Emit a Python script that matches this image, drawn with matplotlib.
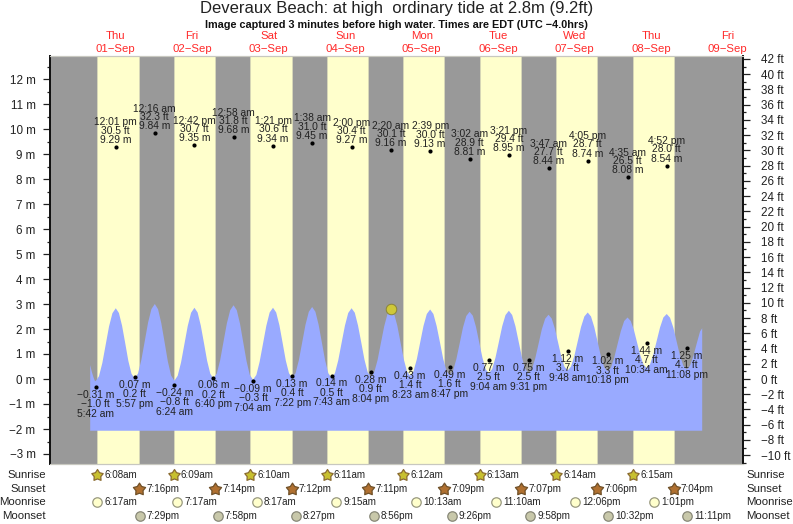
# coding: utf-8
import numpy as np
import matplotlib
matplotlib.use('Agg')
import matplotlib.pyplot as plt
from matplotlib.path import Path
from matplotlib.transforms import blended_transform_factory

plt.rcParams['font.family'] = ['Liberation Sans', 'DejaVu Sans']

# day labels, hours are counted from 00:00 on 01-Sep
day_names = ['Thu', 'Fri', 'Sat', 'Sun', 'Mon', 'Tue', 'Wed', 'Thu', 'Fri']
day_dates = ['01-Sep', '02-Sep', '03-Sep', '04-Sep', '05-Sep', '06-Sep', '07-Sep', '08-Sep', '09-Sep']

sunrise = ['6:08am', '6:09am', '6:10am', '6:11am', '6:12am', '6:13am', '6:14am', '6:15am']
sunset = ['7:16pm', '7:14pm', '7:12pm', '7:11pm', '7:09pm', '7:07pm', '7:06pm', '7:04pm']
moonrise = ['6:17am', '7:17am', '8:17am', '9:15am', '10:13am', '11:10am', '12:06pm', '1:01pm']
moonset = ['7:29pm', '7:58pm', '8:27pm', '8:56pm', '9:26pm', '9:58pm', '10:32pm', '11:11pm']

# high tides: day index, time, ft, m
high_day = [0, 1, 1, 2, 2, 3, 3, 4, 4, 5, 5, 6, 6, 7, 7]
high_time = ['12:01 pm', '12:16 am', '12:42 pm', '12:58 am', '1:21 pm', '1:38 am', '2:00 pm',
             '2:20 am', '2:39 pm', '3:02 am', '3:21 pm', '3:47 am', '4:05 pm', '4:35 am', '4:52 pm']
high_ft = ['30.5', '32.3', '30.7', '31.8', '30.6', '31.0', '30.4',
           '30.1', '30.0', '28.9', '29.4', '27.7', '28.7', '26.5', '28.0']
high_m = ['9.29', '9.84', '9.35', '9.68', '9.34', '9.45', '9.27',
          '9.16', '9.13', '8.81', '8.95', '8.44', '8.74', '8.08', '8.54']

# low tides
low_day = [0, 0, 1, 1, 2, 2, 3, 3, 4, 4, 5, 5, 6, 6, 7, 7]
low_time = ['5:42 am', '5:57 pm', '6:24 am', '6:40 pm', '7:04 am', '7:22 pm', '7:43 am', '8:04 pm',
            '8:23 am', '8:47 pm', '9:04 am', '9:31 pm', '9:48 am', '10:18 pm', '10:34 am', '11:08 pm']
low_ft = ['-1.0', '0.2', '-0.8', '0.2', '-0.3', '0.4', '0.5', '0.9',
          '1.4', '1.6', '2.5', '2.5', '3.7', '3.3', '4.7', '4.1']
low_m = ['-0.31', '0.07', '-0.24', '0.06', '-0.09', '0.13', '0.14', '0.28',
         '0.43', '0.49', '0.77', '0.75', '1.12', '1.02', '1.44', '1.25']

# tide curve
tide_hours = [4.0, 4.5, 5.0, 5.4, 5.7, 6.75, 7.81, 8.86, 9.91, 10.97, 12.02,
              13.01, 14.0, 14.99, 15.97, 16.96, 17.95, 19.0, 20.06, 21.11, 22.16, 23.22, 24.27,
              25.29, 26.31, 27.34, 28.36, 29.38, 30.4, 31.45, 32.5, 33.55, 34.6, 35.65, 36.7,
              37.7, 38.69, 39.69, 40.68, 41.68, 42.67, 43.72, 44.77, 45.82, 46.87, 47.92, 48.97,
              49.99, 51.0, 52.02, 53.04, 54.05, 55.07, 56.12, 57.16, 58.21, 59.26, 60.3, 61.35,
              62.35, 63.36, 64.36, 65.36, 66.37, 67.37, 68.41, 69.46, 70.5, 71.54, 72.59, 73.63,
              74.65, 75.66, 76.68, 77.69, 78.71, 79.72, 80.77, 81.81, 82.86, 83.91, 84.95, 86.0,
              87.01, 88.02, 89.04, 90.05, 91.06, 92.07, 93.11, 94.16, 95.2, 96.24, 97.29, 98.33,
              99.34, 100.35, 101.36, 102.36, 103.37, 104.38, 105.43, 106.47, 107.52, 108.56, 109.6, 110.65,
              111.67, 112.69, 113.72, 114.74, 115.76, 116.78, 117.82, 118.86, 119.91, 120.95, 121.99, 123.03,
              124.04, 125.04, 126.05, 127.06, 128.06, 129.07, 130.12, 131.16, 132.21, 133.26, 134.3, 135.35,
              136.38, 137.41, 138.44, 139.46, 140.49, 141.52, 142.56, 143.61, 144.65, 145.69, 146.74, 147.78,
              148.78, 149.79, 150.79, 151.79, 152.8, 153.8, 154.85, 155.89, 156.94, 157.99, 159.03, 160.08,
              161.12, 162.15, 163.19, 164.23, 165.26, 166.3, 167.35, 168.39, 169.44, 170.49, 171.53, 172.58,
              173.58, 174.58, 175.58, 176.57, 177.57, 178.57, 179.62, 180.67, 181.72, 182.77, 183.82, 184.87,
              185.91, 186.96, 188.0, 189.04, 190.09, 191.13, 192.18, 193.23, 194.28, 195.33, 196.0]
tide_m = [0.56, 0.29, 0.08, -0.06, -0.09, 0.11, 0.64, 1.37, 2.10, 2.63, 2.83,
          2.64, 2.13, 1.43, 0.72, 0.21, 0.02, 0.22, 0.77, 1.51, 2.26, 2.80, 3.00,
          2.79, 2.23, 1.47, 0.70, 0.14, -0.07, 0.13, 0.66, 1.39, 2.12, 2.65, 2.85,
          2.66, 2.14, 1.44, 0.73, 0.21, 0.02, 0.22, 0.75, 1.49, 2.22, 2.75, 2.95,
          2.75, 2.21, 1.46, 0.72, 0.17, -0.03, 0.16, 0.69, 1.41, 2.13, 2.66, 2.85,
          2.66, 2.15, 1.45, 0.74, 0.23, 0.04, 0.23, 0.75, 1.46, 2.17, 2.69, 2.88,
          2.69, 2.17, 1.46, 0.75, 0.23, 0.04, 0.23, 0.74, 1.44, 2.13, 2.64, 2.83,
          2.65, 2.14, 1.46, 0.77, 0.27, 0.085, 0.27, 0.76, 1.44, 2.11, 2.61, 2.79,
          2.61, 2.13, 1.46, 0.80, 0.31, 0.13, 0.31, 0.79, 1.46, 2.12, 2.60, 2.78,
          2.60, 2.12, 1.47, 0.81, 0.33, 0.15, 0.32, 0.79, 1.42, 2.06, 2.52, 2.69,
          2.53, 2.08, 1.46, 0.85, 0.39, 0.23, 0.40, 0.86, 1.48, 2.11, 2.56, 2.73,
          2.56, 2.11, 1.48, 0.86, 0.40, 0.23, 0.39, 0.82, 1.40, 1.99, 2.41, 2.57,
          2.42, 2.01, 1.46, 0.90, 0.49, 0.34, 0.50, 0.92, 1.50, 2.08, 2.50, 2.66,
          2.50, 2.07, 1.49, 0.90, 0.47, 0.31, 0.45, 0.85, 1.39, 1.92, 2.32, 2.46,
          2.32, 1.96, 1.45, 0.95, 0.58, 0.44, 0.58, 0.98, 1.52, 2.06, 2.46, 2.60,
          2.45, 2.05, 1.49, 0.93, 0.53, 0.38, 0.53, 0.92, 1.42, 1.90, 2.03]
tide_floor = -2.07

now_hour = 98.28
now_m = 2.8


def hours(s):
    # '6:08am' or '6:08 am' -> hours after midnight
    s = s.replace(' ', '')
    h, m = s[:-2].split(':')
    h = int(h) % 12
    if s.endswith('pm'):
        h += 12
    return h + int(m) / 60.


def nice(s):
    return s.replace('-', '\u2212')


def fat_star(inner=0.58):
    ang = np.pi / 2 + np.arange(10) * np.pi / 5
    rad = np.where(np.arange(10) % 2 == 0, 1.0, inner)
    verts = np.c_[rad * np.cos(ang), rad * np.sin(ang)]
    return Path(np.vstack([verts, verts[0]]), closed=True)


W, H = 793, 524
L, R, T, B = 49.5, 742.5, 56, 464
fig = plt.figure(figsize=(W / 100., H / 100.), dpi=100)
ax = fig.add_axes([L / W, 1 - B / H, (R - L) / W, (B - T) / H])
ax.set_facecolor('#999999')

# x runs 3.1875 px per hour with midnight 01-Sep at px 77.45
ax.set_xlim((L - 77.45) / 3.1875, (R - 77.45) / 3.1875)
ax.set_ylim(-3.4, 12.92)

for d in range(8):
    ax.axvspan(24 * d + hours(sunrise[d]), 24 * d + hours(sunset[d]),
               facecolor='#ffffcc', edgecolor='#d8d8b8', lw=0.6, zorder=1)

ax.fill_between(tide_hours, tide_m, tide_floor, facecolor='#99aaff', edgecolor='none', zorder=2)

high_x = [24 * d + hours(t) for d, t in zip(high_day, high_time)]
low_x = [24 * d + hours(t) for d, t in zip(low_day, low_time)]
ax.plot(high_x, [float(v) for v in high_m], 'o', color='k', ms=3, mew=0, zorder=4)
ax.plot(low_x, [float(v) for v in low_m], 'o', color='k', ms=3, mew=0, zorder=4)

label_kw = dict(textcoords='offset points', ha='center', va='center', fontsize=7.4,
                color='#222222', zorder=5)
for x, t, ft, m in zip(high_x, high_time, high_ft, high_m):
    y = float(m)
    ax.annotate(m + ' m', (x, y), xytext=(0, 4.9), **label_kw)
    ax.annotate(ft + ' ft', (x, y), xytext=(0, 11.6), **label_kw)
    ax.annotate(t, (x, y), xytext=(0, 17.6), **label_kw)
for x, t, ft, m in zip(low_x, low_time, low_ft, low_m):
    y = float(m)
    ax.annotate(nice(m) + ' m', (x, y), xytext=(0, -5.6), **label_kw)
    ax.annotate(nice(ft) + ' ft', (x, y), xytext=(0, -12.4), **label_kw)
    ax.annotate(t, (x, y), xytext=(0, -19.4), **label_kw)

ax.plot([now_hour], [now_m], 'o', ms=7.6, mfc='#cfc838', mec='#8a8438', mew=0.7, zorder=6)

# left axis in metres
m_ticks = np.arange(-3, 13)
ax.set_xticks([])
ax.set_yticks(m_ticks)
ax.set_yticklabels([nice(str(v)) + ' m' for v in m_ticks], fontsize=8.4, color='#222222')
ax.set_yticks(np.arange(-2.5, 13, 1.0), minor=True)
ax.tick_params(axis='y', which='major', length=5, width=0.9, pad=5, color='#222222')
ax.tick_params(axis='y', which='minor', length=2.5, width=0.9, color='#222222')

# right axis in feet
ax2 = ax.twinx()
ax2.set_ylim(ax.get_ylim()[0] * 3.2808, ax.get_ylim()[1] * 3.2808)
ft_ticks = np.arange(-10, 43, 2)
ax2.set_yticks(ft_ticks)
ax2.set_yticklabels([nice(str(v)) + ' ft' for v in ft_ticks], fontsize=8.4, color='#222222')
ax2.set_yticks(np.arange(-11, 43, 2), minor=True)
ax2.tick_params(axis='y', which='major', length=5, width=0.9, pad=8, color='#222222')
ax2.tick_params(axis='y', which='minor', length=2.5, width=0.9, color='#222222')

for a in (ax, ax2):
    a.spines['left'].set_linewidth(1.3)
    a.spines['right'].set_linewidth(1.3)
    a.spines['left'].set_color('#111111')
    a.spines['right'].set_color('#111111')
    a.spines['top'].set_color('#c8c8c0')
    a.spines['bottom'].set_color('#c8c8c0')

# everything outside the axes: x in data, y in figure pixels from the top
strip = blended_transform_factory(ax.transData, fig.transFigure)


def py(p):
    return 1 - p / float(H)


for d in range(9):
    x = 24 * d + 12
    ax.text(x, py(36), day_names[d], transform=strip, ha='center', va='center',
            fontsize=8.2, color='#ff2a2a', clip_on=False)
    ax.text(x, py(49.5), nice(day_dates[d]), transform=strip, ha='center', va='center',
            fontsize=8.2, color='#ff2a2a', clip_on=False)

rows = [
    ('Sunrise', sunrise, 474.5, fat_star(), 8.6, '#c8c030', '#8a6a30'),
    ('Sunset', sunset, 489, fat_star(), 9.2, '#b07030', '#6f5028'),
    ('Moonrise', moonrise, 502, 'o', 6.8, '#ffffcc', '#999980'),
    ('Moonset', moonset, 516, 'o', 6.8, '#c8c8aa', '#888878'),
]
for name, times, yp, mk, ms, fc, ec in rows:
    xs = [24 * d + hours(t) for d, t in enumerate(times)]
    ax.plot(xs, [py(yp)] * len(xs), linestyle='none', marker=mk, ms=ms, mfc=fc, mec=ec, mew=0.9,
            transform=strip, clip_on=False, zorder=6)
    for x, t in zip(xs, times):
        ax.annotate(t, (x, py(yp)), xycoords=strip, xytext=(5.2, 0), textcoords='offset points',
                    ha='left', va='center', fontsize=7.1, color='#222222')
    fig.text(45.7 / W, py(yp), name, ha='right', va='center', fontsize=8.2, color='#222222')
    fig.text(746.5 / W, py(yp), name, ha='left', va='center', fontsize=8.2, color='#222222')

fig.text(396.5 / W, py(8), 'Deveraux Beach: at high  ordinary tide at 2.8m (9.2ft)',
         ha='center', va='center', fontsize=12.0, color='#222222')
fig.text(396.5 / W, py(24.5), 'Image captured 3 minutes before high water. Times are EDT (UTC \u22124.0hrs)',
         ha='center', va='center', fontsize=7.8, fontweight='bold', color='#111111')

fig.savefig('out.png', dpi=100)
plt.close(fig)
